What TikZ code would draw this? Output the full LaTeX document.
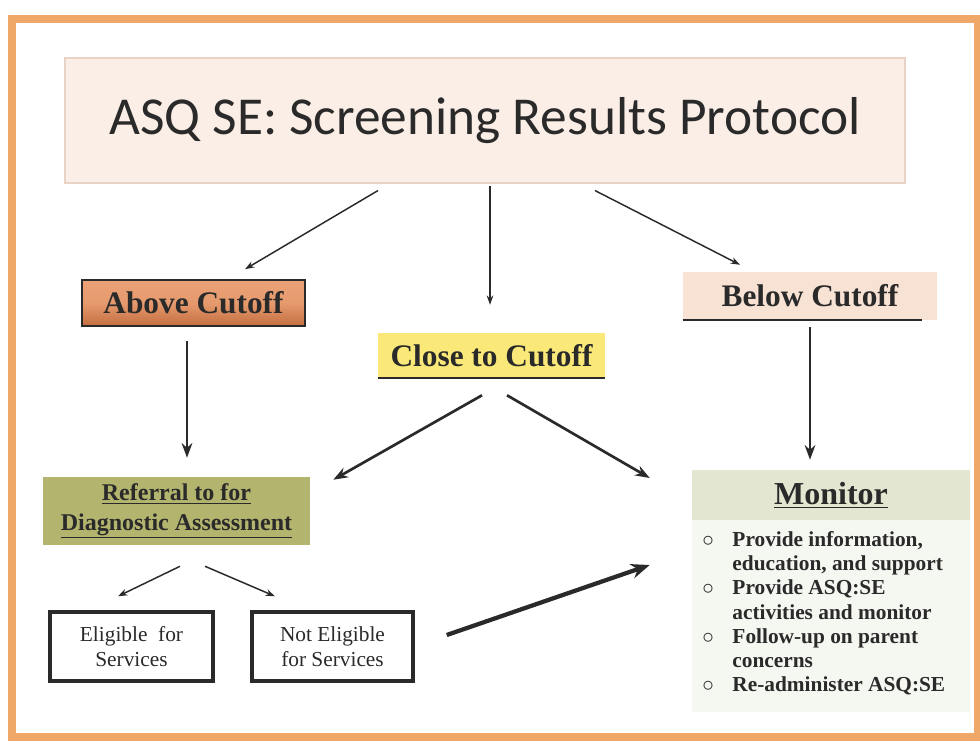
\documentclass[tikz,border=0pt]{standalone}
\usepackage{fontspec}
\setmainfont{Liberation Serif}
\newfontfamily\titlefont{Carlito}
\usetikzlibrary{arrows.meta,calc}
\def\px{*0.75pt}
\definecolor{frameor}{HTML}{EFA868}
\definecolor{titlefill}{HTML}{FBEEE6}
\definecolor{titleedge}{HTML}{E9D3C4}
\definecolor{abovetop}{HTML}{EBA276}
\definecolor{abovebot}{HTML}{C46E40}
\definecolor{closefill}{HTML}{FAE978}
\definecolor{belowfill}{HTML}{F7E2D4}
\definecolor{reffill}{HTML}{B3B46E}
\definecolor{monhead}{HTML}{E3E7D1}
\definecolor{monbody}{HTML}{F5F7F1}
\definecolor{ink}{HTML}{2A2A2A}
\tikzset{
  thinarrow/.style={draw=ink,line width=1.1pt,-{Stealth[length=7pt,width=5pt]}},
  midarrow/.style={draw=ink,line width=2pt,-{Stealth[length=11pt,width=8pt]}},
  fatarrow/.style={draw=ink,line width=3.2pt,-{Stealth[length=14pt,width=11pt]}},
  labelbox/.style={inner sep=0pt,font=\bfseries\fontsize{23.5}{26}\selectfont,text=ink},
  eligbox/.style={draw=ink,line width=2.6pt,fill=white,inner sep=0pt,align=center,
    minimum height=69\px,font=\fontsize{16}{18.5}\selectfont,text=ink}
}
\begin{document}
\begin{tikzpicture}[x=0.75pt,y=-0.75pt]
\useasboundingbox (0,0) rectangle (980,744);
\fill[white] (0,0) rectangle (980,744);
% frame
\draw[frameor,line width=5.5pt] (12,19) rectangle (978,737);
% title
\node[fill=titlefill,draw=titleedge,line width=0.8pt,minimum width=840\px,minimum height=125\px,
  inner sep=0pt,font=\titlefont\fontsize{40}{44}\selectfont,text=ink] (title) at (485,120.5)
  {ASQ SE: Screening Results Protocol};
% level 2
\node[labelbox,draw=ink,line width=1.2pt,top color=abovetop,bottom color=abovebot,
  middle color=abovetop!85!abovebot,minimum width=223\px,minimum height=46\px] (above) at (193.5,303) {Above Cutoff};
\node[labelbox,fill=closefill,minimum width=227\px,minimum height=45\px] (close) at (491.5,355.5) {Close to Cutoff};
\draw[ink,line width=1.4pt] (close.south west) -- (close.south east);
\node[labelbox,fill=belowfill,minimum width=254\px,minimum height=48\px] (below) at (810,296) {Below Cutoff};
\draw[ink,line width=1.4pt] (below.south west) -- ($(below.south east)+(-15,0)$);
% level 3
\node[fill=reffill,inner sep=0pt,minimum width=267\px,minimum height=68\px,align=center,
  font=\bfseries\fontsize{18}{22}\selectfont,text=ink] (ref) at (176.5,511)
  {\underline{Referral to for}\\\underline{Diagnostic Assessment}};
\fill[monbody] (692,520) rectangle (970,712);
\node[fill=monhead,inner sep=0pt,minimum width=278\px,minimum height=50\px,
  font=\bfseries\fontsize{24}{28}\selectfont,text=ink] (mon) at (831,495) {\underline{Monitor}};
\node[anchor=north west,inner sep=0pt,align=left,font=\bfseries\fontsize{16}{18.2}\selectfont,text=ink]
  (mlist) at (702,529)
  {\begin{tabular}{@{}l@{\hspace{14pt}}l@{}}
   $\circ$ & Provide information,\\
           & education, and support\\
   $\circ$ & Provide ASQ:SE\\
           & activities and monitor\\
   $\circ$ & Follow-up on parent\\
           & concerns\\
   $\circ$ & Re-administer ASQ:SE
   \end{tabular}};
% level 4
\node[eligbox,minimum width=163\px] (elig) at (131.5,646.5) {Eligible\ \ for\\Services};
\node[eligbox,minimum width=161\px] (nelig) at (332.5,646.5) {Not Eligible\\for Services};
% arrows
\draw[thinarrow] ($(title.south)+(-107,7)$) -- ($(above.north)+(51.5,-10)$);
\draw[thinarrow] ($(title.south)+(5,2)$) -- ($(close.north)+(-1.5,-28)$);
\draw[thinarrow] ($(title.south)+(110,7)$) -- ($(below.north)+(-70,-7)$);
\draw[midarrow] ($(above.south)+(-6.5,14)$) -- ($(ref.north)+(10.5,-19)$);
\draw[midarrow] ($(below.south)+(0,7)$) -- ($(mon.north)+(-21,-10)$);
\draw[midarrow] ($(close.south)+(-9.5,17)$) -- ($(ref.north east)+(23,3)$);
\draw[midarrow] ($(close.south)+(15.5,17)$) -- ($(mon.west)+(-42,-17)$);
\draw[thinarrow] ($(ref.south)+(3.5,21)$) -- ($(elig.north)+(-13.5,-14)$);
\draw[thinarrow] ($(ref.south)+(28.5,21)$) -- ($(nelig.north)+(-57.5,-14)$);
\draw[fatarrow] ($(nelig.east)+(32,-11.5)$) -- ($(mon.west)+(-42,70)$);
\end{tikzpicture}
\end{document}
